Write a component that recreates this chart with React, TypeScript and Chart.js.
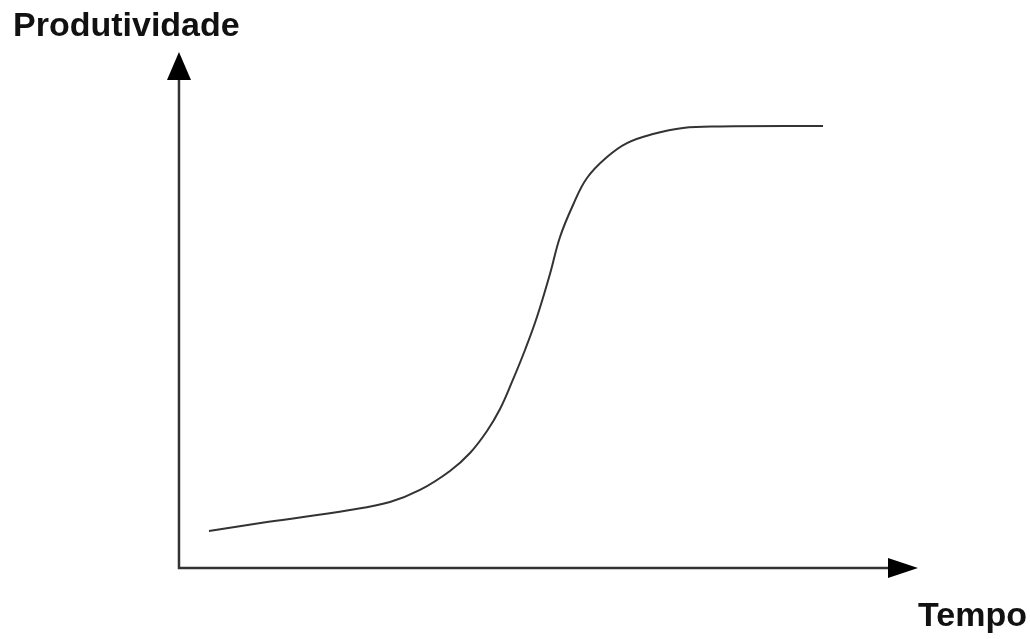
import React, { useEffect, useRef } from "react";
import { Chart, registerables } from "chart.js";

Chart.register(...registerables);

// Curve of productivity over time (x: time, y: productivity), axis tips at 100
const timeValues = [4.06, 11.91, 23.14, 28.55, 32.61, 36.67, 39.38, 41.68, 43.44, 45.06, 46.82, 48.44, 50.2, 51.56, 53.32, 55.21, 57.92, 60.62, 64.14, 68.2, 73.21, 87.15];
const productivityValues = [7.17, 8.91, 11.24, 12.79, 15.12, 18.8, 22.29, 26.55, 30.81, 36.05, 42.25, 48.64, 56.98, 64.15, 70.35, 75.58, 79.65, 82.36, 84.11, 85.27, 85.56, 85.66];

const yAxisLabel = "Produtividade";
const xAxisLabel = "Tempo";
const AXIS_TIP = 100;
const X_MIN = -22.46;
const X_MAX = 114.75;

const FONT_FAMILY = "'Liberation Sans', Arial, sans-serif";

const arrowAxesPlugin = {
  id: "arrowAxes",
  beforeDatasetsDraw(chart: any) {
    const { ctx, scales } = chart;
    const xs = scales.x;
    const ys = scales.y;
    const ox = xs.getPixelForValue(0);
    const oy = ys.getPixelForValue(0);
    const tipY = ys.getPixelForValue(AXIS_TIP);
    const tipX = xs.getPixelForValue(AXIS_TIP);
    const yArrowLen = 28;
    const yArrowHalf = 12;
    const xArrowLen = 30;
    const xArrowHalf = 10;
    ctx.save();
    ctx.strokeStyle = "#333";
    ctx.fillStyle = "#000";
    ctx.lineWidth = 2.5;
    ctx.lineCap = "butt";
    ctx.beginPath();
    ctx.moveTo(ox, oy);
    ctx.lineTo(ox, tipY + yArrowLen - 2);
    ctx.moveTo(ox - 1.25, oy);
    ctx.lineTo(tipX - xArrowLen + 2, oy);
    ctx.stroke();
    // y arrow
    ctx.beginPath();
    ctx.moveTo(ox, tipY);
    ctx.lineTo(ox - yArrowHalf, tipY + yArrowLen);
    ctx.lineTo(ox + yArrowHalf, tipY + yArrowLen);
    ctx.closePath();
    ctx.fill();
    // x arrow
    ctx.beginPath();
    ctx.moveTo(tipX, oy);
    ctx.lineTo(tipX - xArrowLen, oy - xArrowHalf);
    ctx.lineTo(tipX - xArrowLen, oy + xArrowHalf);
    ctx.closePath();
    ctx.fill();
    ctx.restore();
  },
};

export default function App() {
  const canvasRef = useRef<HTMLCanvasElement | null>(null);

  useEffect(() => {
    const canvas = canvasRef.current;
    if (!canvas) return;
    const data = timeValues.map((t, i) => ({ x: t, y: productivityValues[i] }));
    const chart = new Chart(canvas, {
      type: "line",
      data: {
        datasets: [
          {
            data,
            borderColor: "#333",
            borderWidth: 2,
            pointRadius: 0,
            fill: false,
            tension: 0.4,
          },
        ],
      },
      options: {
        responsive: false,
        animation: false,
        maintainAspectRatio: false,
        layout: { padding: { top: 6, left: 13, right: 3, bottom: 1.6 } },
        scales: {
          x: { type: "linear", min: X_MIN, max: X_MAX, display: false },
          y: { type: "linear", min: 0, max: AXIS_TIP, display: false },
        },
        plugins: {
          legend: { display: false },
          tooltip: { enabled: false },
          title: {
            display: true,
            text: yAxisLabel,
            align: "start",
            color: "#111",
            font: { family: FONT_FAMILY, size: 34, weight: "bold", lineHeight: 1.2 },
            padding: { top: 0, bottom: 5.2 },
          },
          subtitle: {
            display: true,
            text: xAxisLabel,
            position: "bottom",
            align: "end",
            color: "#111",
            font: { family: FONT_FAMILY, size: 34, weight: "bold", lineHeight: 1.2 },
            padding: { top: 28.6, bottom: 0 },
          },
        },
      },
      plugins: [arrowAxesPlugin],
    } as any);
    return () => chart.destroy();
  }, []);

  return (
    <div style={{ position: "fixed", left: 0, top: 0, width: 1030, height: 639, background: "#fff" }}>
      <canvas ref={canvasRef} width={1030} height={639} style={{ display: "block", width: 1030, height: 639 }} />
    </div>
  );
}
